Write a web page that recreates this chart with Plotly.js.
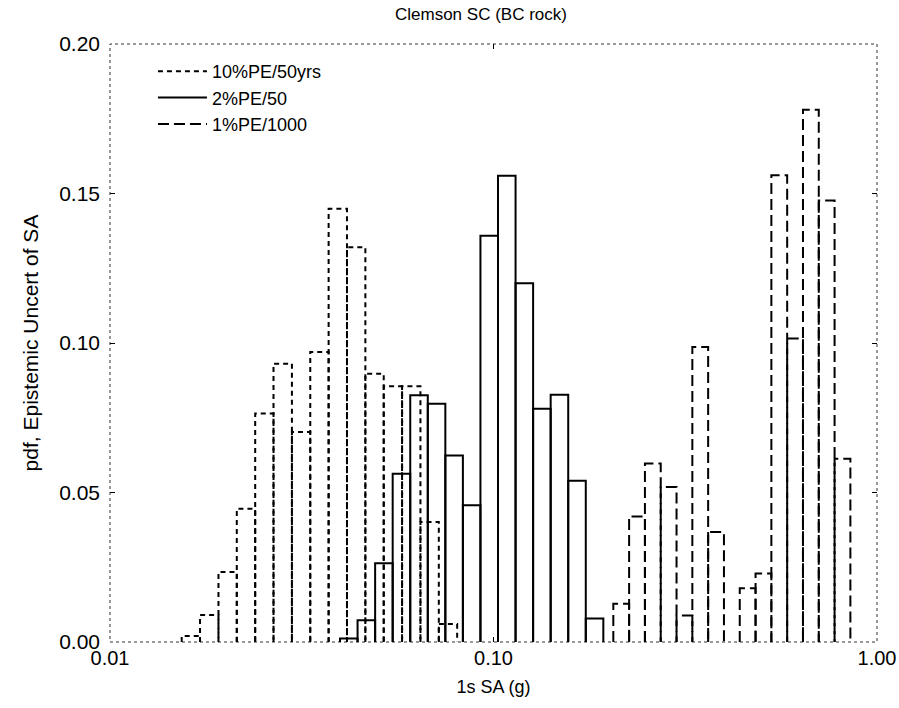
<!DOCTYPE html>
<html>
<head>
<meta charset="utf-8">
<script src="https://cdn.plot.ly/plotly-3.0.1.min.js"></script>
<style>html,body{margin:0;padding:0;background:#fff;}</style>
</head>
<body>
<div id="chart" style="width:899px;height:708px;"></div>
<script>
// ---- data ----
const seriesNames = ['10%PE/50yrs', '2%PE/50', '1%PE/1000'];

// 10%PE/50yrs : bin edges (g) and pdf values
const edges10 = [0.01538, 0.01717, 0.01918, 0.02141, 0.02391, 0.02669, 0.02981, 0.03328, 0.03716, 0.04149, 0.04633, 0.05173, 0.05776, 0.06449, 0.07201, 0.0804];
const pdf10   = [0.002, 0.009, 0.0234, 0.0446, 0.0764, 0.0931, 0.0702, 0.097, 0.1449, 0.132, 0.0897, 0.0855, 0.0855, 0.0401, 0.006];

// 2%PE/50 : bin edges (g) and pdf values
const edges2 = [0.03979, 0.04421, 0.04913, 0.05459, 0.06066, 0.0674, 0.07489, 0.08321, 0.09246, 0.10274, 0.11416, 0.12685, 0.14095, 0.15662, 0.17403, 0.19337];
const pdf2   = [0.0012, 0.0073, 0.0263, 0.0563, 0.0825, 0.0797, 0.0624, 0.0457, 0.1359, 0.1559, 0.120, 0.078, 0.0827, 0.0539, 0.0079];

// 1%PE/1000 : bin edges (g) and pdf values
const edges1 = [0.20532, 0.22576, 0.24823, 0.27294, 0.30011, 0.32998, 0.36283, 0.39894, 0.43865, 0.48231, 0.53032, 0.58311, 0.64115, 0.70497, 0.77514, 0.85229];
const pdf1   = [0.0128, 0.042, 0.0597, 0.0518, 0.0089, 0.0987, 0.0368, 0, 0.018, 0.0229, 0.1561, 0.1015, 0.178, 0.1477, 0.0613];

const xTickVals = [0.01, 0.1, 1];
const xTickText = ['0.01', '0.10', '1.00'];
const yTickVals = [0, 0.05, 0.10, 0.15, 0.20];

// ---- build outlined histogram bars (each bar a closed-to-baseline outline) ----
function outline(edges, vals) {
  const x = [], y = [];
  for (let i = 0; i < vals.length; i++) {
    if (!(vals[i] > 0)) continue;
    x.push(edges[i], edges[i], edges[i + 1], edges[i + 1], null);
    y.push(0, vals[i], vals[i], 0, null);
  }
  return {x, y};
}

const FONT = 'Liberation Sans, Arial, Helvetica, sans-serif';
const styles = [
  {dash: '5px,4px'},
  {dash: 'solid'},
  {dash: '11px,5px'}
];
const data = [[edges10, pdf10], [edges2, pdf2], [edges1, pdf1]].map((s, k) => {
  const o = outline(s[0], s[1]);
  return {
    type: 'scatter', mode: 'lines', x: o.x, y: o.y,
    name: seriesNames[k], connectgaps: false, hoverinfo: 'skip',
    line: {color: '#000', width: 2, dash: styles[k].dash}
  };
});

const layout = {
  width: 899, height: 708,
  margin: {l: 110, r: 22, t: 44, b: 66},
  paper_bgcolor: '#fff', plot_bgcolor: '#fff',
  font: {family: FONT, size: 18, color: '#000'},
  title: {text: 'Clemson SC (BC rock)', font: {family: FONT, size: 17, color: '#000'}, x: 0.535, xanchor: 'center', y: 0.988, yanchor: 'top'},
  xaxis: {
    type: 'log', range: [-2, 0],
    tickvals: xTickVals, ticktext: xTickText,
    ticks: 'inside', ticklen: 5, tickcolor: '#000', mirror: 'ticks',
    showgrid: false, zeroline: false, showline: false,
    ticklabelstandoff: 2,
    tickfont: {family: FONT, size: 20, color: '#000'},
    title: {text: '1s SA (g)', font: {family: FONT, size: 18, color: '#000'}, standoff: 12}
  },
  yaxis: {
    range: [0, 0.2], tickvals: yTickVals, tickformat: '.2f',
    ticks: 'inside', ticklen: 5, tickcolor: '#000', mirror: 'ticks',
    showgrid: false, zeroline: false, showline: false,
    ticklabelstandoff: 9,
    tickfont: {family: FONT, size: 21, color: '#000'},
    title: {text: 'pdf, Epistemic Uncert of SA', font: {family: FONT, size: 21, color: '#000'}, standoff: 14}
  },
  showlegend: true,
  legend: {
    x: 0.056, y: 0.985, xanchor: 'left', yanchor: 'top',
    bgcolor: 'rgba(0,0,0,0)', borderwidth: 0, itemwidth: 49,
    font: {family: FONT, size: 18, color: '#000'},
    traceorder: 'normal', tracegroupgap: 0
  },
  shapes: [{
    type: 'rect', xref: 'paper', yref: 'paper', x0: 0, x1: 1, y0: 0, y1: 1,
    line: {color: '#333', width: 1, dash: 'dot'}, fillcolor: 'rgba(0,0,0,0)', layer: 'below'
  }]
};

Plotly.newPlot('chart', data, layout, {displayModeBar: false, staticPlot: true});
</script>
</body>
</html>
